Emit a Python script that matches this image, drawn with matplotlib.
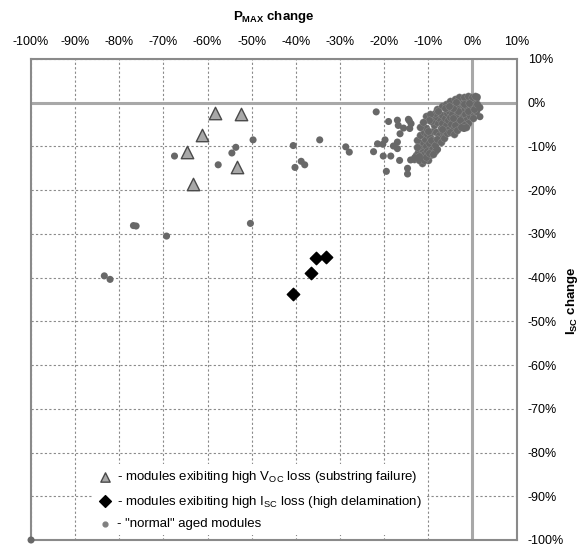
import matplotlib
matplotlib.use("Agg")
import matplotlib.pyplot as plt
from matplotlib.ticker import FuncFormatter

plt.rcParams["font.family"] = ["Liberation Sans", "DejaVu Sans"]
plt.rcParams["mathtext.fontset"] = "custom"
plt.rcParams["mathtext.rm"] = "Liberation Sans"
plt.rcParams["mathtext.bf"] = "Liberation Sans:bold"

# modules with high Voc loss (substring failure): Pmax change %, Isc change %
voc_pmax = [-58.4, -52.5, -61.2, -64.7, -53.3, -63.2]
voc_isc = [-2.3, -2.5, -7.3, -11.3, -14.8, -18.5]

# modules with high Isc loss (high delamination)
isc_pmax = [-35.4, -33.2, -36.5, -40.6]
isc_isc = [-35.5, -35.2, -38.9, -43.7]

# "normal" aged modules - scattered ones
norm_pmax = [
    -100.0, -83.4, -82.1, -76.8, -76.2, -69.3, -67.5, -57.6, -54.5, -53.6,
    -49.7, -50.3, -40.6, -40.2, -38.8, -38.0, -34.6, -28.7, -27.9,
    -21.8, -19.0, -17.0, -14.5, -13.9, -16.8, -15.6, -14.2, -16.4, -19.8,
    -17.0, -21.5, -20.3, -22.4, -20.2, -18.5, -17.0, -16.5, -19.5, -14.7,
    -14.7, -14.0, -13.1, -12.0, -7.9, -17.9, -14.3,
    1.7, 1.7, 1.1, -1.9,
]
norm_isc = [
    -100.0, -39.6, -40.4, -28.1, -28.2, -30.5, -12.2, -14.2, -11.5, -10.2,
    -8.5, -27.6, -9.8, -14.8, -13.4, -14.2, -8.5, -10.1, -11.3,
    -2.1, -4.3, -4.0, -3.8, -4.8, -5.2, -5.8, -5.9, -7.1, -8.5,
    -9.0, -9.4, -9.5, -11.2, -12.2, -12.2, -10.5, -13.2, -15.7, -15.0,
    -16.3, -13.1, -12.6, -12.7, -10.7, -9.9, -4.1,
    -1.1, -3.2, 1.3, -5.9,
]

# "normal" aged modules - dense cluster near 0 / 0
clus_pmax = [
    -12.8, -12.3, -11.8, -11.5, -11.0, -12.0, -11.2, -10.8, -10.5, -10.2,
    -9.8, -9.5, -10.0, -11.5, -12.5, -11.8, -11.0, -10.3, -9.6, -9.2,
    -8.8, -9.0, -10.6, -11.8, -8.5, -13.2, -12.1,
    -8.6, -8.2, -8.0, -7.6, -7.5, -7.2, -7.0, -6.8, -6.6, -6.3,
    -6.0, -5.8, -5.6, -5.4, -5.2, -5.0, -4.8, -4.6, -4.4, -4.2,
    -8.8, -8.4, -9.4, -7.9, -6.9,
    -4.0, -3.8, -3.6, -3.4, -3.2, -3.0, -2.8, -2.6, -2.4, -2.2,
    -2.0, -1.8, -1.6, -1.4, -1.2, -1.0, -0.8, -0.6, -0.4, -0.2,
    0.0, 0.2, 0.4, 0.6, 0.8, -0.9, -3.9, -2.9, -1.9, 0.1,
    -0.5, -1.5, -2.5, -3.3, -4.5, -5.5, -0.3, 0.5, -1.1, -2.1,
    -10.5, -9.5, -8.0, -7.0, -6.0, -5.0, -4.0, -3.0, -2.0, -1.0,
    0.0, 0.5, -12.5, -12.0, -11.0, -10.5, -9.9, -9.0, -9.3, -8.4,
    -8.0, -10.0, -9.8, -11.2, -7.2, -6.5, -5.8, -5.0, -4.2, -3.5,
    -2.6, -1.4, -7.8, -6.2, -5.2, -3.8, -1.8, -0.8, 0.8, 0.3,
    1.0, -4.4, -6.8,
]
clus_isc = [
    -12.0, -11.2, -12.5, -10.5, -11.8, -9.8, -9.0, -8.2, -10.0, -11.0,
    -9.2, -12.0, -13.2, -13.8, -8.5, -7.5, -6.8, -7.2, -7.8, -10.5,
    -8.6, -6.5, -5.8, -5.5, -11.0, -12.9, -12.2,
    -5.2, -6.8, -4.5, -7.5, -3.6, -5.8, -2.8, -4.6, -6.8, -3.5,
    -5.2, -2.3, -4.0, -6.0, -1.8, -3.2, -4.8, -2.5, -0.9, -5.8,
    -3.2, -2.4, -4.2, -8.8, -8.0,
    -3.8, -1.5, -0.4, -2.8, -4.5, -1.0, 0.2, -2.2, -3.4, -0.6,
    -1.6, 0.4, -2.6, -4.0, -0.9, 0.6, -1.8, -3.0, -0.3, 0.8,
    -1.2, -2.4, 0.2, -0.8, 1.0, -4.6, -5.0, -3.9, -5.2, -3.6,
    1.2, 1.0, 0.9, -1.9, -1.2, -1.0, -1.5, -0.4, -2.0, 0.0,
    -3.0, -2.5, -1.5, -0.8, -0.3, 0.3, 0.8, 1.2, 1.4, 1.5,
    1.4, 1.5, -10.2, -13.0, -13.0, -12.4, -11.5, -11.8, -8.5, -9.6,
    -8.2, -6.5, -4.0, -4.5, -9.0, -8.0, -7.0, -6.8, -7.2, -6.2,
    -5.5, -5.6, -2.0, -1.2, -0.8, 0.2, -0.4, 0.0, -2.0, -1.5,
    -0.3, -3.4, -6.0,
]

x_ticks = list(range(-100, 11, 10))
y_ticks = list(range(-100, 11, 10))
y_tick_labels = ["-100%", "-90%", "-80%", "-70%", "-60%", "-50%", "-40%",
                 "-30%", "-20%", "-10%", "0%", "10%"]

fig = plt.figure(figsize=(5.86, 5.46), dpi=100)
ax = fig.add_axes([0.053, 0.011, 0.8285, 0.881])

ax.set_xlim(-100, 10)
ax.set_ylim(-100, 10)
ax.set_xticks(x_ticks)
ax.set_yticks(y_ticks)
ax.xaxis.set_major_formatter(FuncFormatter(lambda v, p: f"{v:.0f}%"))
ax.set_yticklabels(y_tick_labels)
ax.xaxis.tick_top()
ax.yaxis.tick_right()
ax.tick_params(axis="x", length=0, pad=8, labelsize=9)
ax.tick_params(axis="y", length=0, pad=8, labelsize=9)

ax.grid(True, color="#8a8a8a", lw=0.8, linestyle=(0, (2, 2)))
ax.set_axisbelow(True)
for sp in ax.spines.values():
    sp.set_color("#8a8a8a")
    sp.set_linewidth(1.5)

ax.axhline(0, color="#a8a8a8", lw=2.2, zorder=1)
ax.axvline(0, color="#a8a8a8", lw=2.2, zorder=1)

grey = "#686868"
ax.scatter(clus_pmax, clus_isc, s=28, color=grey, edgecolors="#9a9a9a",
           linewidths=0.2, zorder=3, clip_on=False)
ax.scatter(norm_pmax, norm_isc, s=26, color=grey, edgecolors="none",
           zorder=3, clip_on=False)
ax.scatter(voc_pmax, voc_isc, s=80, marker="^", color="#a8a8a8",
           edgecolors="#4a4a4a", linewidths=1.0, zorder=4)
ax.scatter(isc_pmax, isc_isc, s=40, marker="D", color="black", zorder=4)

h1 = ax.scatter([], [], s=45, marker="^", color="#a8a8a8",
                edgecolors="#4a4a4a", linewidths=1.0)
h2 = ax.scatter([], [], s=36, marker="D", color="black")
h3 = ax.scatter([], [], s=12, color="#808080")
leg = ax.legend(
    [h1, h2, h3],
    [r"- modules exibiting high $\mathregular{V_{OC}}$ loss (substring failure)",
     r"- modules exibiting high $\mathregular{I_{SC}}$ loss (high delamination)",
     '- "normal" aged modules'],
    loc="lower left", bbox_to_anchor=(0.112, -0.004), frameon=True,
    fontsize=9.5, handletextpad=0.3, labelspacing=0.62, borderpad=0.4,
    handlelength=1.2,
)
leg.get_frame().set_edgecolor("none")
leg.get_frame().set_facecolor("white")
leg.get_frame().set_alpha(1.0)

fig.text(0.467, 0.969, r"$\mathbf{P_{MAX}}$ change", ha="center", va="center",
         fontsize=9.5, fontweight="bold")
fig.text(0.976, 0.45, r"$\mathbf{I_{SC}}$ change", ha="center", va="center",
         rotation=90, fontsize=9.5, fontweight="bold")

fig.savefig("out.png", dpi=100)
